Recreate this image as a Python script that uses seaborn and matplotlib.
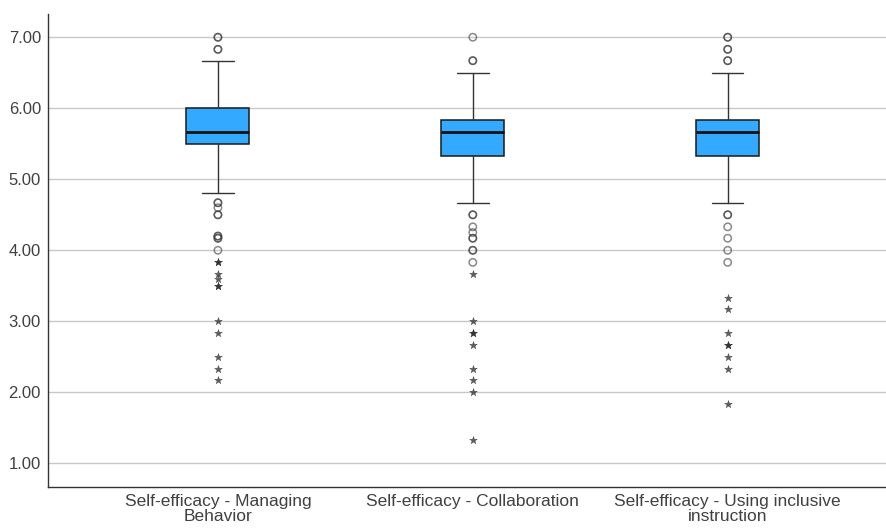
import numpy as np
import pandas as pd
import matplotlib
matplotlib.use("Agg")
import matplotlib.pyplot as plt
import seaborn as sns

# Scale scores (1-7) for three self-efficacy subscales
categories = [
    "Self-efficacy - Managing\nBehavior",
    "Self-efficacy - Collaboration",
    "Self-efficacy - Using inclusive\ninstruction",
]
whisker_low = [4.80, 4.67, 4.67]
q1 = [5.50, 5.33, 5.33]
median = [5.67, 5.67, 5.67]
q3 = [6.00, 5.83, 5.83]
whisker_high = [6.67, 6.50, 6.50]

# Mild outliers (circles); repeated values are overlapping cases
outliers_managing = [7.00, 7.00, 6.83, 6.83, 4.67, 4.67, 4.60, 4.50, 4.50, 4.20, 4.20, 4.17, 4.17, 4.00]
outliers_collab = [7.00, 6.67, 6.67, 4.50, 4.50, 4.33, 4.25, 4.17, 4.17, 4.00, 4.00, 3.83]
outliers_inclusive = [7.00, 7.00, 6.83, 6.83, 6.67, 6.67, 4.50, 4.50, 4.33, 4.17, 4.00, 3.83]

# Extreme values (stars)
extremes_managing = [3.83, 3.83, 3.67, 3.60, 3.50, 3.50, 3.00, 2.83, 2.50, 2.33, 2.17]
extremes_collab = [3.67, 3.00, 2.83, 2.83, 2.67, 2.33, 2.17, 2.00, 1.33]
extremes_inclusive = [3.33, 3.17, 2.83, 2.67, 2.67, 2.50, 2.33, 1.83]

y_ticks = [1.00, 2.00, 3.00, 4.00, 5.00, 6.00, 7.00]

sns.set_theme(style="white")
plt.rcParams["font.family"] = ["Liberation Sans", "DejaVu Sans"]

fig = plt.figure(figsize=(8.87, 5.31), dpi=100)
ax = fig.add_axes([0.054, 0.083, 0.946, 0.891])

positions = list(range(len(categories)))
stats = [
    dict(whislo=wl, q1=a, med=m, q3=b, whishi=wh, fliers=[])
    for wl, a, m, b, wh in zip(whisker_low, q1, median, q3, whisker_high)
]

ax.bxp(
    stats,
    positions=positions,
    widths=0.247,
    patch_artist=True,
    showfliers=False,
    boxprops=dict(facecolor="#33A9FF", edgecolor="#1a1a1a", linewidth=1.1),
    medianprops=dict(color="#111111", linewidth=2.0),
    whiskerprops=dict(color="#333333", linewidth=1.0),
    capprops=dict(color="#333333", linewidth=1.0),
    zorder=3,
)

out_df = pd.DataFrame({
    "pos": [0] * len(outliers_managing) + [1] * len(outliers_collab) + [2] * len(outliers_inclusive),
    "score": outliers_managing + outliers_collab + outliers_inclusive,
})
ext_df = pd.DataFrame({
    "pos": [0] * len(extremes_managing) + [1] * len(extremes_collab) + [2] * len(extremes_inclusive),
    "score": extremes_managing + extremes_collab + extremes_inclusive,
})

sns.scatterplot(
    data=out_df, x="pos", y="score", ax=ax, marker="o", s=28,
    facecolor="none", edgecolor="#3a3a3a", linewidth=1.1, alpha=0.6, zorder=4,
)
sns.scatterplot(
    data=ext_df, x="pos", y="score", ax=ax, marker="*", s=34,
    color="#2a2a2a", edgecolor="#2a2a2a", linewidth=0.3, alpha=0.75, zorder=4,
)

ax.set_xlim(-0.667, 2.625)
ax.set_ylim(0.668, 7.33)
ax.set_yticks(y_ticks)
ax.set_yticklabels([f"{v:.2f}" for v in y_ticks])
ax.set_xticks(positions)
ax.set_xticklabels(categories, linespacing=1.0)
ax.set_xlabel("")
ax.set_ylabel("")

ax.yaxis.grid(True, color="#c8c8c8", linewidth=1.0, zorder=0)
ax.xaxis.grid(False)
ax.set_axisbelow(True)

for side in ["top", "right"]:
    ax.spines[side].set_visible(False)
for side in ["left", "bottom"]:
    ax.spines[side].set_color("#333333")
    ax.spines[side].set_linewidth(1.0)

ax.tick_params(axis="both", length=0, labelcolor="#404040")
ax.tick_params(axis="y", pad=5, labelsize=12)
ax.tick_params(axis="x", pad=5, labelsize=12.5)

fig.savefig("out.png", dpi=100)
